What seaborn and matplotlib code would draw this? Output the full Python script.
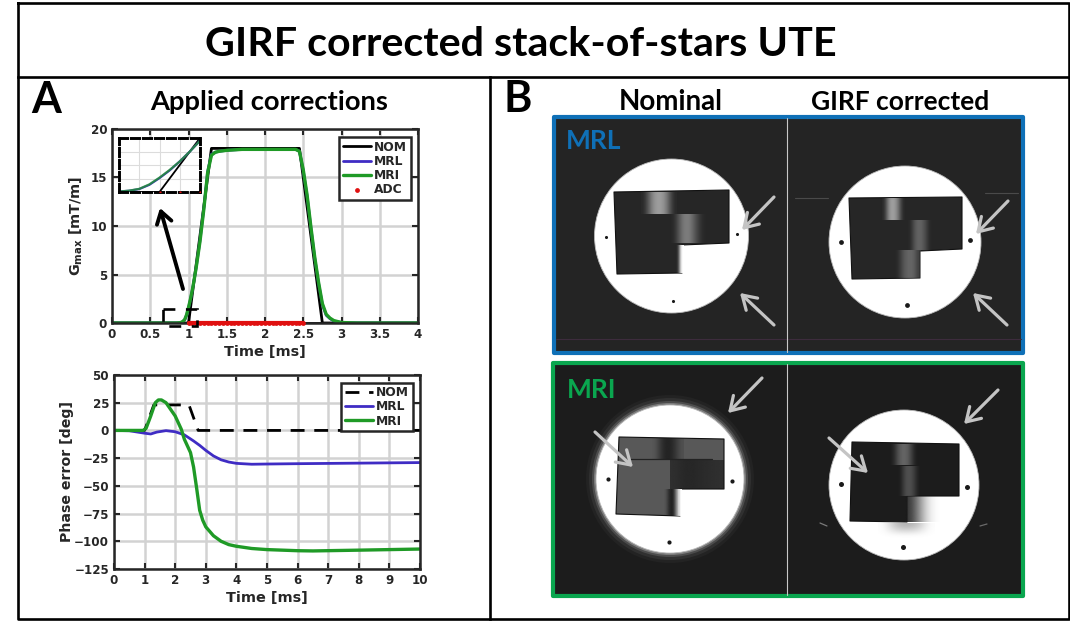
import numpy as np
import pandas as pd
import matplotlib.pyplot as plt
import seaborn as sns
from matplotlib.patches import Circle, Polygon, Rectangle

# gradient waveform, panel A top
grad_nom_t = [0, 1.0, 1.3, 2.45, 2.75, 4]
grad_nom = [0, 0, 18, 18, 0, 0]
grad_base_t = [0, 4]
grad_base = [0, 0]
grad_t = [0, 0.85, 0.9, 0.925, 0.95, 0.975, 1.0, 1.025, 1.05, 1.075, 1.1, 1.15, 1.2, 1.25, 1.3, 1.35, 1.4, 1.5, 1.7, 2.0, 2.4,
          2.45, 2.5, 2.55, 2.6, 2.65, 2.7, 2.75, 2.8, 2.85, 2.9, 3.0, 3.2, 4]
grad_mri = [0, 0, 0.05, 0.15, 0.35, 0.85, 1.6, 2.45, 3.4, 4.5, 5.7, 8.4, 11.7, 15.5, 17.3, 17.6, 17.7, 17.8, 17.9, 17.9, 17.9,
            17.7, 15.8, 13.2, 9.9, 6.8, 4.2, 2.0, 0.9, 0.5, 0.25, 0.05, 0, 0]
grad_mrl = [0, 0, 0.05, 0.14, 0.33, 0.8, 1.55, 2.4, 3.4, 4.5, 5.7, 8.5, 11.8, 15.6, 17.4, 17.6, 17.7, 17.8, 17.9, 17.9, 17.9,
            17.7, 15.7, 13.1, 9.8, 6.7, 4.1, 1.9, 0.8, 0.45, 0.2, 0.05, 0, 0]
adc_t = [1.0, 1.05, 1.1, 1.15, 1.2, 1.25, 1.3, 1.35, 1.4, 1.45, 1.5, 1.55, 1.6, 1.65, 1.7, 1.75,
         1.8, 1.85, 1.9, 1.95, 2.0, 2.05, 2.1, 2.15, 2.2, 2.25, 2.3, 2.35, 2.4, 2.45, 2.5]
adc = [0] * len(adc_t)

# phase error, panel A bottom
phase_nom_t = [0, 1.0, 1.3, 2.45, 2.75, 10]
phase_nom = [0, 0, 23, 23, 0, 0]
mrl_t = [0, 0.5, 1, 1.2, 1.4, 1.7, 2, 2.3, 2.6, 2.8, 3, 3.25, 3.5, 3.75, 4, 4.5, 5, 6, 8, 10]
phase_mrl = [0, -0.3, -2.5, -3.2, -1.5, -0.2, -1.2, -4, -9.5, -13.5, -18, -23, -26.5, -28.5, -29.7, -30.5, -30.3, -30, -29.5, -29]
mri_t = [0, 0.5, 0.95, 1.05, 1.2, 1.35, 1.45, 1.55, 1.7, 2, 2.2, 2.3, 2.5, 2.6, 2.7, 2.8, 2.9, 3, 3.25, 3.5, 3.75, 4, 4.5, 5, 6, 6.5, 8, 10]
phase_mri = [0, 0, 0, 2, 13, 25, 27.5, 27.5, 25, 13, 1, -8, -20, -33, -52, -72, -81, -87, -95, -100, -103, -104.5, -106.5, -107.5,
             -108.5, -108.7, -108, -107]

grad_ticks = [0, 0.5, 1, 1.5, 2, 2.5, 3, 3.5, 4]
grad_labels = ['0', '0.5', '1', '1.5', '2', '2.5', '3', '3.5', '4']

NOM_C = '#000000'
MRL_C = '#3f2cc4'
MRI_C = '#1f9a26'
AXC = '#262626'
BLUE = '#0f70b7'
GREEN = '#0aa64f'

sns.set_theme(style='white')
plt.rcParams['font.family'] = ['DejaVu Sans']
plt.rcParams['mathtext.fontset'] = 'dejavusans'
W, H = 1070, 621
fig = plt.figure(figsize=(W / 100, H / 100), dpi=100)


def px_axes(x0, y0, x1, y1, z):
    return fig.add_axes([x0 / W, 1 - y1 / H, (x1 - x0) / W, (y1 - y0) / H], zorder=z)


def style_axes(ax):
    ax.grid(True, color='#d2d2d2', lw=1.8)
    ax.set_axisbelow(True)
    for s in ax.spines.values():
        s.set_linewidth(1.8)
        s.set_color(AXC)
    ax.tick_params(direction='in', length=4, width=1.5, color=AXC, top=True, right=True, bottom=True, left=True,
                   labelsize=8.6, labelcolor=AXC, pad=3.5)
    for t in ax.get_xticklabels() + ax.get_yticklabels():
        t.set_fontweight('bold')


def legend_box(ax, bbox, size):
    leg = ax.legend(loc='center', bbox_to_anchor=bbox, bbox_transform=fig.transFigure, frameon=True, fancybox=False,
                    framealpha=1, edgecolor=AXC, handlelength=2.3, handletextpad=0.25, labelspacing=0.1,
                    borderpad=0.3, borderaxespad=0, prop={'weight': 'bold', 'size': size})
    leg.get_frame().set_linewidth(1.8)
    for t in leg.get_texts():
        t.set_color(AXC)
    leg.set_zorder(20)


# panel A, gradient
ax1 = px_axes(112, 129, 418, 323, 1)
sns.lineplot(x=grad_base_t, y=grad_base, ax=ax1, color=NOM_C, lw=2, estimator=None, sort=False)
sns.lineplot(x=grad_nom_t, y=grad_nom, ax=ax1, color=NOM_C, lw=2, label='NOM', estimator=None, sort=False)
sns.lineplot(x=grad_t, y=grad_mrl, ax=ax1, color=MRL_C, lw=2, label='MRL', estimator=None, sort=False)
sns.lineplot(x=grad_t, y=grad_mri, ax=ax1, color=MRI_C, lw=2.4, label='MRI', estimator=None, sort=False)
sns.lineplot(x=adc_t, y=adc, ax=ax1, color='#e01010', lw=3, estimator=None, sort=False, zorder=4, clip_on=False)
sns.scatterplot(x=adc_t, y=adc, ax=ax1, color='#e01010', s=12, linewidth=0, label='ADC', zorder=4, clip_on=False)
ax1.set_xlim(0, 4)
ax1.set_ylim(0, 20)
ax1.set_xticks(grad_ticks, grad_labels)
ax1.set_yticks([0, 5, 10, 15, 20])
ax1.set_xlabel('Time [ms]', fontsize=10.4, fontweight='bold', color=AXC, labelpad=3)
ax1.set_ylabel(r'$\mathbf{G_{max}}$ [mT/m]', fontsize=10.4, fontweight='bold', color=AXC, labelpad=4)
style_axes(ax1)
legend_box(ax1, (375 / W, 1 - 168.5 / H), 8.8)

# zoomed inset of the ramp start
ins = px_axes(119, 138, 200, 192, 6)
sns.lineplot(x=grad_nom_t, y=grad_nom, ax=ins, color=NOM_C, lw=1.3, estimator=None, sort=False)
sns.lineplot(x=grad_t, y=grad_mrl, ax=ins, color=MRL_C, lw=1.6, estimator=None, sort=False)
sns.lineplot(x=grad_t, y=grad_mri, ax=ins, color=MRI_C, lw=1.6, alpha=0.75, estimator=None, sort=False)
sns.scatterplot(x=adc_t, y=adc, ax=ins, color='#e01010', s=2.5, linewidth=0, zorder=4)
ins.set_xlim(0.9, 1.1)
ins.set_ylim(0, 6)
ins.set_xticks([0.9, 0.95, 1.0, 1.05])
ins.set_yticks([1.5, 3, 4.5])
ins.tick_params(labelbottom=False, labelleft=False, length=0)
ins.set_xlabel('')
ins.set_ylabel('')
ins.grid(True, color='#dcdcdc', lw=0.8)
for s in ins.spines.values():
    s.set_linewidth(2.1)
    s.set_color('black')
    s.set_linestyle((0, (2.8, 1.3)))

# panel A, phase error
ax2 = px_axes(114, 375, 420, 569, 1)
sns.lineplot(x=phase_nom_t, y=phase_nom, ax=ax2, color=NOM_C, lw=2, label='NOM', estimator=None, sort=False,
             linestyle=(0, (5, 3.5)))
sns.lineplot(x=mrl_t, y=phase_mrl, ax=ax2, color=MRL_C, lw=2, label='MRL', estimator=None, sort=False)
sns.lineplot(x=mri_t, y=phase_mri, ax=ax2, color=MRI_C, lw=2.4, label='MRI', estimator=None, sort=False)
ax2.set_xlim(0, 10)
ax2.set_ylim(-125, 50)
ax2.set_xticks(range(0, 11))
ax2.set_yticks([-125, -100, -75, -50, -25, 0, 25, 50])
ax2.set_xlabel('Time [ms]', fontsize=10.4, fontweight='bold', color=AXC, labelpad=3)
ax2.set_ylabel('Phase error [deg]', fontsize=10.2, fontweight='bold', color=AXC, labelpad=0)
style_axes(ax2)
legend_box(ax2, (377 / W, 1 - 407 / H), 8.8)

# everything else is laid out in pixel coordinates
ov = fig.add_axes([0, 0, 1, 1], zorder=5)
ov.patch.set_alpha(0)
ov.set_axis_off()


def reset_view():
    ov.set_xlim(0, W)
    ov.set_ylim(H, 0)


reset_view()


def frame_line(xs, ys):
    ov.plot(xs, ys, color='black', lw=1.9, solid_capstyle='projecting')


frame_line([18, 1069, 1069, 18, 18], [3, 3, 619, 619, 3])
frame_line([18, 1069], [76.5, 76.5])
frame_line([490, 490], [76.5, 619])


def band(x0, x1, y0, y1, profile, color='white', vprofile=(1,)):
    img = np.zeros((len(vprofile), len(profile), 4))
    img[..., :3] = plt.matplotlib.colors.to_rgb(color)
    img[..., 3] = np.outer(vprofile, profile)
    ov.imshow(img, extent=(x0, x1, y1, y0), aspect='auto', interpolation='bicubic', zorder=4)
    reset_view()


def phantom(center, r, corners, dots, fill='#262626', halo=False, dot_size=7):
    if halo:
        for extra, col in zip((10, 7, 4, 2), ('#232323', '#303030', '#4c4c4c', '#7c7c7c')):
            ov.add_patch(Circle(center, r + extra, fc=col, ec='none', zorder=2))
    ov.add_patch(Circle(center, r, fc='white', ec='#bbbbbb', lw=0.6, zorder=2))
    ov.add_patch(Polygon(corners, closed=True, fc=fill, ec='#111111', lw=0.8, joinstyle='round', zorder=3))
    ov.scatter([d[0] for d in dots], [d[1] for d in dots], s=dot_size, color='#1a1a1a', linewidths=0, zorder=5)


def gray_arrow(start, end):
    ov.annotate('', xy=end, xytext=start, zorder=8,
                arrowprops=dict(arrowstyle='->,head_length=0.8,head_width=0.5', color='#c4c4c4', lw=2.3,
                                shrinkA=0, shrinkB=0))


# MRL images
ov.add_patch(Rectangle((554, 117), 469, 236, fc='#242424', ec=BLUE, lw=3, zorder=1, joinstyle='round'))
phantom((671.5, 236), 77, [(614, 192), (729, 190), (729, 243), (682, 245), (682, 273), (617, 274)],
        [(606, 237), (737, 234), (673, 301)], dot_size=5)
band(641, 677, 192, 214, [0, 0.45, 0.6, 0.45, 0])
band(671, 706, 214, 243, [0, 0.35, 0.45, 0.2, 0])
band(676, 684, 245, 273, [0, 0.3, 0.9, 1])
phantom((905, 242), 76, [(849, 198), (962, 197), (962, 249), (920, 251), (920, 278), (852, 279)],
        [(841, 242), (970, 240), (907, 305)], dot_size=12)
band(882, 905, 198, 220, [0, 0.5, 0.6, 0.4, 0])
band(908, 932, 220, 250, [0, 0.25, 0.3, 0.2, 0])
band(895, 921, 250, 278, [0, 0.2, 0.3, 0.3, 0.1])
ov.plot([556, 1021], [339, 339], color='#3d2c3d', lw=0.8, zorder=1.5)
ov.plot([795, 828], [198, 198], color='#4a4a4a', lw=0.8, zorder=1.5)
ov.plot([985, 1018], [193, 193], color='#4a4a4a', lw=0.8, zorder=1.5)
ov.plot([787, 787], [118, 352], color='#c8c8c8', lw=0.8, zorder=6)
for s, e in [((774, 197), (742, 230)), ((774, 325), (740, 293)), ((1008, 201), (976, 234)), ((1007, 325), (973, 293))]:
    gray_arrow(s, e)

# MRI images
ov.add_patch(Rectangle((553, 363), 470, 233, fc='#1c1c1c', ec=GREEN, lw=3, zorder=1, joinstyle='round'))
phantom((670, 479), 74, [(619, 437), (724, 439), (724, 489), (680, 489), (680, 516), (616, 514)],
        [(608, 479), (732, 481), (669, 542)], fill='#585858', halo=True, dot_size=9)
band(652, 684, 438, 460, [0, 0.6, 0.85, 0.6, 0.1], color='#141414')
band(670, 724, 460, 489, [0.6, 0.75, 0.7, 0.65, 0.6], color='#141414')
band(664, 678, 489, 516, [0, 0.7, 0.9, 0.5], color='#141414')
band(672, 682, 489, 516, [0, 0.5, 1])
ov.plot([630, 712], [459, 459], color='#222222', lw=0.9, zorder=4.5)
phantom((904, 485), 75, [(852, 442), (959, 444), (959, 496), (907, 496), (907, 522), (850, 521)],
        [(841, 484), (967, 487), (903, 547)], fill='#1c1c1c', dot_size=13)
band(890, 918, 444, 465, [0, 0.25, 0.35, 0.25, 0])
band(898, 921, 466, 496, [0, 0.2, 0.25, 0.15, 0])
band(905, 940, 496, 522, [0.9, 0.55, 0.15, 0], color='#1c1c1c')
band(878, 935, 523, 538, [0, 0.45, 0.6, 0.45, 0], color='#777777', vprofile=(1, 0.7, 0.3, 0))
ov.plot([820, 827], [523, 526], color='#7a7a7a', lw=0.9, zorder=1.5)
ov.plot([980, 987], [526, 524], color='#6a6a6a', lw=0.9, zorder=1.5)
ov.plot([787, 787], [364, 595], color='#c8c8c8', lw=0.8, zorder=6)
for s, e in [((762, 378), (728, 413)), ((595, 432), (633, 467)), ((998, 390), (964, 424)), ((829, 438), (868, 473))]:
    gray_arrow(s, e)

# zoom marker and arrow in panel A
ov.add_patch(Rectangle((163, 309), 34, 17, fc='none', ec='black', lw=1.9, ls=(0, (4.5, 4)), zorder=7))
ov.annotate('', xy=(160, 208), xytext=(183, 289), zorder=7,
            arrowprops=dict(arrowstyle='->,head_length=0.7,head_width=0.45', color='black', lw=2.8, shrinkA=0, shrinkB=0))

# heading text
HEAD = ['Lato', 'Open Sans', 'DejaVu Sans']


def head(x, y, s, size, color='black'):
    ov.text(x, y, s, ha='center', va='center', fontsize=size, fontweight='bold', family=HEAD, color=color, zorder=9)


head(521, 45, 'GIRF corrected stack-of-stars UTE', 29.7)
head(46, 100, 'A', 31)
head(518, 99, 'B', 31)
head(269, 102, 'Applied corrections', 19.7)
head(671, 102, 'Nominal', 20)
head(900, 102, 'GIRF corrected', 19)
head(594, 141, 'MRL', 19, BLUE)
head(592, 390, 'MRI', 19, GREEN)

fig.savefig('out.png', dpi=100)
